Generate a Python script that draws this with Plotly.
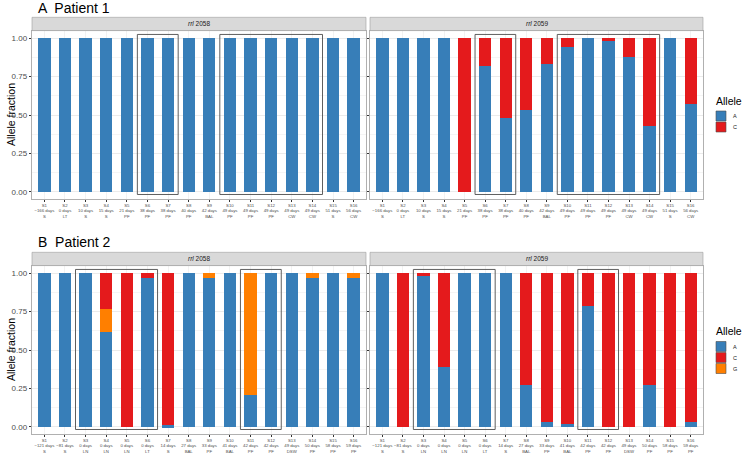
import plotly.graph_objects as go

# ---------------- data ----------------
samples = ["S1", "S2", "S3", "S4", "S5", "S6", "S7", "S8",
           "S9", "S10", "S11", "S12", "S13", "S14", "S15", "S16"]

p1_days = ["−166 days", "0 days", "10 days", "15 days", "21 days", "38 days", "38 days", "40 days",
           "42 days", "49 days", "49 days", "49 days", "49 days", "49 days", "51 days", "56 days"]
p1_site = ["S", "LT", "S", "S", "PF", "PF", "PF", "PF",
           "BAL", "PF", "PF", "PF", "CW", "CW", "S", "CW"]

p2_days = ["−121 days", "−81 days", "0 days", "0 days", "0 days", "0 days", "14 days", "27 days",
           "33 days", "41 days", "42 days", "42 days", "49 days", "50 days", "58 days", "59 days"]
p2_site = ["S", "S", "LN", "LN", "LN", "LT", "S", "BAL",
           "PF", "BAL", "PF", "PF", "DSW", "PF", "PF", "PF"]

# allele fractions
p1_2058_A = [1, 1, 1, 1, 1, 1, 1, 1, 1, 1, 1, 1, 1, 1, 1, 1]
p1_2058_C = [0, 0, 0, 0, 0, 0, 0, 0, 0, 0, 0, 0, 0, 0, 0, 0]
p1_2058_G = [0, 0, 0, 0, 0, 0, 0, 0, 0, 0, 0, 0, 0, 0, 0, 0]

p1_2059_A = [1, 1, 1, 1, 0, 0.82, 0.48, 0.53, 0.83, 0.94, 1.0, 0.99, 0.88, 0.43, 1.0, 0.57]
p1_2059_C = [0, 0, 0, 0, 1, 0.18, 0.52, 0.47, 0.17, 0.06, 0.0, 0.01, 0.12, 0.57, 0.0, 0.43]
p1_2059_G = [0, 0, 0, 0, 0, 0, 0, 0, 0, 0, 0, 0, 0, 0, 0, 0]

p2_2058_A = [1, 1, 1, 0.62, 0, 0.97, 0.01, 1, 0.97, 1, 0.21, 1, 1, 0.97, 1, 0.97]
p2_2058_C = [0, 0, 0, 0.23, 1, 0.03, 0.99, 0, 0, 0, 0, 0, 0, 0, 0, 0]
p2_2058_G = [0, 0, 0, 0.15, 0, 0, 0, 0, 0.03, 0, 0.79, 0, 0, 0.03, 0, 0.03]

p2_2059_A = [1, 0, 0.99, 0.39, 1, 1, 1, 0.27, 0.03, 0.02, 0.79, 0, 0, 0.27, 0, 0.03]
p2_2059_C = [0, 1, 0.01, 0.61, 0, 0, 0, 0.73, 0.97, 0.98, 0.21, 1, 1, 0.73, 1, 0.97]
p2_2059_G = [0, 0, 0, 0, 0, 0, 0, 0, 0, 0, 0, 0, 0, 0, 0, 0]

# boxed sample groups
p1_boxes = [("S6", "S7"), ("S10", "S14")]
p2_boxes = [("S3", "S6"), ("S11", "S12")]

alleles = ["A", "G", "C"]           # stacking order bottom -> top
allele_colors = {"A": "#377EB8", "C": "#E41A1C", "G": "#FF7F00"}

# ---------------- layout helpers ----------------
W, H = 745, 453
def px(x):
    return x / W
def py(y):
    return 1 - y / H

rows = [(30.6, 199.4), (265.6, 434.4)]
cols = [(32, 366), (370, 703)]
strip_h = 13.3

FONT = "Liberation Sans, Arial, sans-serif"

panels = [
    (0, 0, {"A": p1_2058_A, "C": p1_2058_C, "G": p1_2058_G}, "2058", (p1_days, p1_site), p1_boxes),
    (0, 1, {"A": p1_2059_A, "C": p1_2059_C, "G": p1_2059_G}, "2059", (p1_days, p1_site), p1_boxes),
    (1, 0, {"A": p2_2058_A, "C": p2_2058_C, "G": p2_2058_G}, "2058", (p2_days, p2_site), p2_boxes),
    (1, 1, {"A": p2_2059_A, "C": p2_2059_C, "G": p2_2059_G}, "2059", (p2_days, p2_site), p2_boxes),
]

fig = go.Figure()
shapes = []
annotations = []

for i, (r, c, vals, gene, (days, site), boxes) in enumerate(panels):
    n = i + 1
    xa = "x" if n == 1 else f"x{n}"
    ya = "y" if n == 1 else f"y{n}"
    for al in alleles:
        fig.add_trace(go.Bar(
            x=samples, y=vals[al], name=al, xaxis=xa, yaxis=ya,
            marker=dict(color=allele_colors[al], line=dict(width=0)),
            width=0.6, showlegend=False, hoverinfo="x+y+name",
        ))
    ticktext = [f"{s}<br>{d}<br>{t}" for s, d, t in zip(samples, days, site)]
    xkey = "xaxis" if n == 1 else f"xaxis{n}"
    ykey = "yaxis" if n == 1 else f"yaxis{n}"
    top, bot = rows[r]
    left, right = cols[c]
    fig.layout[xkey] = dict(
        domain=[px(left), px(right)], anchor=ya,
        type="category", range=[-0.6, 15.6],
        tickmode="array", tickvals=samples, ticktext=ticktext, tickangle=0,
        tickfont=dict(size=4.3, color="#4D4D4D", family=FONT),
        ticks="outside", ticklen=1.5, tickwidth=0.5, tickcolor="#333333",
        showgrid=True, gridcolor="#F2F2F2", gridwidth=0.5,
        showline=True, mirror=True, linecolor="#B0B0B0", linewidth=0.6,
        zeroline=False, fixedrange=True,
    )
    fig.layout[ykey] = dict(
        domain=[py(bot), py(top)], anchor=xa,
        range=[-0.05, 1.05],
        tickmode="array", tickvals=[0, 0.25, 0.5, 0.75, 1.0],
        ticktext=["0.00", "0.25", "0.50", "0.75", "1.00"],
        showticklabels=(c == 0),
        tickfont=dict(size=8, color="#4D4D4D", family=FONT),
        ticks="outside", ticklen=2.5, tickwidth=0.5, tickcolor="#333333",
        showgrid=True, gridcolor="#EBEBEB", gridwidth=0.6,
        minor=dict(tickvals=[0.125, 0.375, 0.625, 0.875], showgrid=True,
                   gridcolor="#F5F5F5", gridwidth=0.4, ticks=""),
        showline=True, mirror=True, linecolor="#B0B0B0", linewidth=0.6,
        zeroline=False, fixedrange=True,
    )
    # strip
    shapes.append(dict(type="rect", xref="paper", yref="paper",
                       x0=px(left), x1=px(right), y0=py(top), y1=py(top - strip_h),
                       fillcolor="#D9D9D9", line=dict(color="#9E9E9E", width=0.6), layer="above"))
    annotations.append(dict(xref="paper", yref="paper", x=px((left + right) / 2),
                            y=py(top - strip_h / 2), text=f"<i>rrl</i> {gene}",
                            showarrow=False, xanchor="center", yanchor="middle",
                            font=dict(size=6.5, color="#1A1A1A", family=FONT)))
    # boxes
    for a, b in boxes:
        ia, ib = samples.index(a), samples.index(b)
        shapes.append(dict(type="rect", xref=xa, yref=ya,
                           x0=ia - 0.49, x1=ib + 0.49, y0=-0.018, y1=1.025,
                           line=dict(color="#4D4D4D", width=0.9), fillcolor="rgba(0,0,0,0)",
                           layer="above"))

# panel titles
for label, yc in [("A  Patient 1", 8.5), ("B  Patient 2", 242)]:
    annotations.append(dict(xref="paper", yref="paper", x=px(36), y=py(yc), text=label,
                            showarrow=False, xanchor="left", yanchor="middle",
                            font=dict(size=14, color="#000000", family=FONT)))

# y-axis titles
for yc in [115, 350]:
    annotations.append(dict(xref="paper", yref="paper", x=px(11), y=py(yc), text="Allele fraction",
                            showarrow=False, textangle=-90, xanchor="center", yanchor="middle",
                            font=dict(size=10.5, color="#000000", family=FONT)))

# legends (drawn manually)
legend_sets = [(100.5, ["A", "C"]), (331, ["A", "C", "G"])]
for title_y, items in legend_sets:
    annotations.append(dict(xref="paper", yref="paper", x=px(714), y=py(title_y), text="Allele",
                            showarrow=False, xanchor="left", yanchor="middle",
                            font=dict(size=10.5, color="#000000", family=FONT)))
    y0 = title_y + 10.5
    for k, al in enumerate(items):
        t = y0 + k * 11
        shapes.append(dict(type="rect", xref="paper", yref="paper",
                           x0=px(716), x1=px(726), y0=py(t), y1=py(t + 10),
                           fillcolor=allele_colors[al], line=dict(color="#4D4D4D", width=0.6)))
        annotations.append(dict(xref="paper", yref="paper", x=px(731), y=py(t + 5), text=al,
                                showarrow=False, xanchor="left", yanchor="middle",
                                font=dict(size=5.5, color="#1A1A1A", family=FONT)))

fig.update_layout(
    width=W, height=H, autosize=False,
    margin=dict(l=0, r=0, t=0, b=0),
    paper_bgcolor="white", plot_bgcolor="white",
    barmode="stack", bargap=0.4,
    shapes=shapes, annotations=annotations,
    font=dict(family=FONT),
)

fig.write_html("out.html", config={"displayModeBar": False},
               post_script="document.body.style.margin='0';document.body.style.padding='0';")
